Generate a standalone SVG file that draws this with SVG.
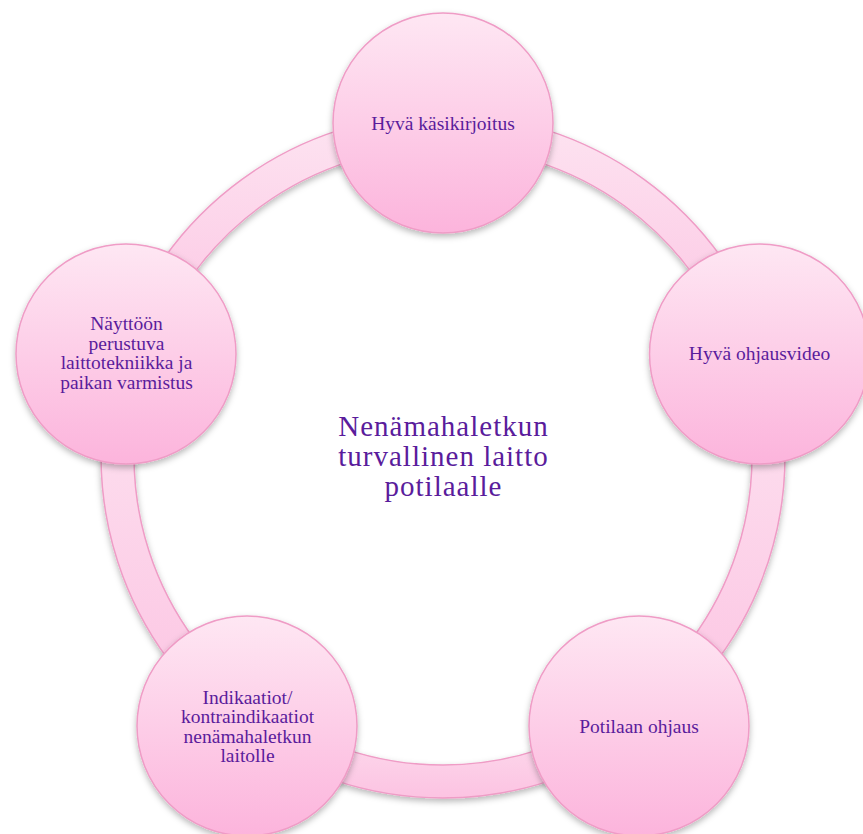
<svg xmlns="http://www.w3.org/2000/svg" width="863" height="834" viewBox="0 0 863 834">
<style>
.seg{fill:url(#gs);stroke:#ef9cc6;stroke-width:1.5;filter:url(#sh)}
.node{fill:url(#gc);stroke:#ef9cc6;stroke-width:1.5;filter:url(#sh)}
.t{font-family:"Liberation Serif","Times New Roman",serif;font-size:19.5px;fill:#5a1c9c;text-anchor:middle}
.c{font-family:"Liberation Serif","Times New Roman",serif;font-size:29px;letter-spacing:1px;fill:#5a1c9c;text-anchor:middle}
</style>
<defs>
<linearGradient id="gc" x1="0" y1="0" x2="0" y2="1">
<stop offset="0" stop-color="#fee7f3"/>
<stop offset="1" stop-color="#fcb4dc"/>
</linearGradient>
<linearGradient id="gs" x1="0" y1="0" x2="0" y2="1">
<stop offset="0" stop-color="#fde4f1"/>
<stop offset="1" stop-color="#fcc3e2"/>
</linearGradient>
<filter id="sh" x="-20%" y="-20%" width="140%" height="150%">
<feDropShadow dx="0" dy="3" stdDeviation="3" flood-color="#000" flood-opacity="0.28"/>
</filter>
</defs>
<rect width="863" height="834" fill="#fff"/>
<g id="connectors">
<path class="seg" d="M443,114 A342,342 0 0 1 768.27,350.32 L736.89,360.52 A309,309 0 0 0 443,147 Z"/>
<path class="seg" d="M768.27,350.32 A342,342 0 0 1 644.03,732.68 L624.63,705.98 A309,309 0 0 0 736.89,360.52 Z"/>
<path class="seg" d="M644.03,732.68 A342,342 0 0 1 241.97,732.68 L261.37,705.98 A309,309 0 0 0 624.63,705.98 Z"/>
<path class="seg" d="M241.97,732.68 A342,342 0 0 1 117.73,350.32 L149.11,360.52 A309,309 0 0 0 261.37,705.98 Z"/>
<path class="seg" d="M117.73,350.32 A342,342 0 0 1 443,114 L443,147 A309,309 0 0 0 149.11,360.52 Z"/>
</g>
<g id="center">
<text class="c" x="443.5" y="436">Nenämahaletkun</text>
<text class="c" x="443.5" y="466">turvallinen laitto</text>
<text class="c" x="443.5" y="496">potilaalle</text>
</g>
<g id="n1">
<circle class="node" cx="443" cy="123" r="110"/>
<text class="t" x="443" y="129.5">Hyvä käsikirjoitus</text>
</g>
<g id="n2">
<circle class="node" cx="759.5" cy="354" r="110"/>
<text class="t" x="759.5" y="360">Hyvä ohjausvideo</text>
</g>
<g id="n3">
<circle class="node" cx="639" cy="726" r="110"/>
<text class="t" x="639" y="733">Potilaan ohjaus</text>
</g>
<g id="n4">
<circle class="node" cx="247" cy="726" r="110"/>
<text class="t" x="247.5" y="703.5">Indikaatiot/</text>
<text class="t" x="247.5" y="723">kontraindikaatiot</text>
<text class="t" x="247.5" y="742.5">nenämahaletkun</text>
<text class="t" x="247.5" y="762">laitolle</text>
</g>
<g id="n5">
<circle class="node" cx="126" cy="354" r="110"/>
<text class="t" x="126.5" y="330">Näyttöön</text>
<text class="t" x="126.5" y="349.5">perustuva</text>
<text class="t" x="126.5" y="369">laittotekniikka ja</text>
<text class="t" x="126.5" y="388.5">paikan varmistus</text>
</g>
</svg>
